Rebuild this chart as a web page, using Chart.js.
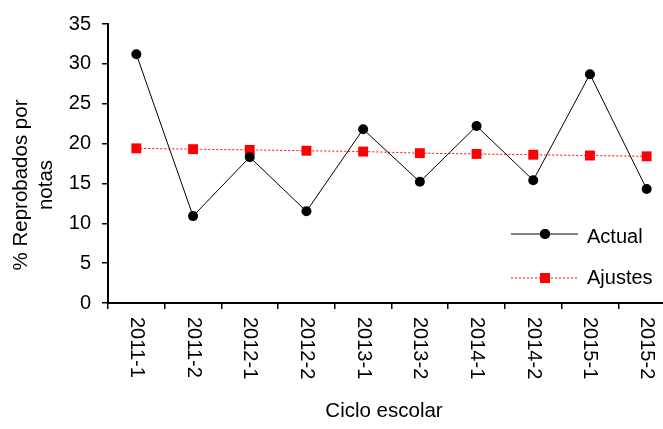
<!DOCTYPE html>
<html>
<head>
<meta charset="utf-8">
<script src="https://cdn.jsdelivr.net/npm/chart.js@4.4.1/dist/chart.umd.min.js"></script>
<style>
  html, body { margin: 0; padding: 0; background: #fff; }
  #wrap { width: 663px; height: 429px; overflow: hidden; position: relative; }
  canvas { display: block; }
</style>
</head>
<body>
<div id="wrap">
  <canvas id="chart" width="690" height="429"></canvas>
</div>
<script>
const ciclos = ["2011-1", "2011-2", "2012-1", "2012-2", "2013-1", "2013-2", "2014-1", "2014-2", "2015-1", "2015-2"];
const actual = [31.2, 10.9, 18.3, 11.5, 21.8, 15.2, 22.2, 15.4, 28.7, 14.3];
const ajustes = [19.4, 19.3, 19.2, 19.1, 19.0, 18.8, 18.7, 18.6, 18.5, 18.4];
const yTicks = [0, 5, 10, 15, 20, 25, 30, 35];

const FONT = "'Liberation Sans', Arial, Helvetica, sans-serif";

// draws rotated x labels, axis titles and the in-plot legend
const extras = {
  id: "extras",
  afterDraw(chart) {
    const ctx = chart.ctx;
    const x = chart.scales.x;
    ctx.save();
    ctx.fillStyle = "#000";

    ctx.font = "20px " + FONT;
    ctx.textAlign = "left";
    ctx.textBaseline = "middle";
    ciclos.forEach((c, i) => {
      ctx.save();
      ctx.translate(x.getPixelForValue(i), 317);
      ctx.rotate(Math.PI / 2);
      ctx.fillText(c, 0, 0);
      ctx.restore();
    });

    ctx.font = "20.5px " + FONT;
    ctx.textAlign = "center";
    ctx.textBaseline = "alphabetic";
    ctx.fillText("Ciclo escolar", 384, 417);

    ctx.save();
    ctx.translate(0, 185);
    ctx.rotate(-Math.PI / 2);
    ctx.textBaseline = "middle";
    ctx.fillText("% Reprobados por", 0, 21);
    ctx.fillText("notas", 0, 46);
    ctx.restore();

    // legend
    ctx.font = "20px " + FONT;
    const rows = [
      { ds: chart.data.datasets[0], y: 234, base: 243, label: "Actual" },
      { ds: chart.data.datasets[1], y: 278, base: 284, label: "Ajustes" }
    ];
    rows.forEach(r => {
      ctx.save();
      ctx.strokeStyle = r.ds.borderColor;
      ctx.lineWidth = r.ds.borderWidth;
      ctx.setLineDash(r.ds.borderDash || []);
      ctx.beginPath();
      ctx.moveTo(511, r.y);
      ctx.lineTo(578, r.y);
      ctx.stroke();
      ctx.restore();
      Chart.helpers.drawPoint(ctx, {
        pointStyle: r.ds.pointStyle,
        radius: r.ds.pointRadius,
        borderWidth: 0
      }, 545, r.y);
      ctx.fillStyle = r.ds.pointBackgroundColor;
      ctx.fill();
      ctx.fillStyle = "#000";
      ctx.textAlign = "left";
      ctx.textBaseline = "alphabetic";
      ctx.fillText(r.label, 587, r.base);
    });
    ctx.restore();
  }
};

new Chart(document.getElementById("chart"), {
  type: "line",
  data: {
    labels: ciclos,
    datasets: [
      {
        label: "Actual",
        data: actual,
        borderColor: "#000",
        borderWidth: 1,
        pointStyle: "circle",
        pointRadius: 5,
        pointBackgroundColor: "#000",
        pointBorderWidth: 0,
        tension: 0
      },
      {
        label: "Ajustes",
        data: ajustes,
        borderColor: "#ff0000",
        borderWidth: 1,
        borderDash: [2, 2],
        pointStyle: "rect",
        pointRadius: 7,
        pointBackgroundColor: "#ff0000",
        pointBorderWidth: 0,
        tension: 0
      }
    ]
  },
  options: {
    responsive: false,
    animation: false,
    events: [],
    layout: { padding: { left: 0, right: 15, top: 24, bottom: 0 } },
    plugins: {
      legend: { display: false },
      tooltip: { enabled: false }
    },
    scales: {
      x: {
        type: "category",
        offset: true,
        grid: { offset: true, drawOnChartArea: false, tickLength: 6, color: "#000", lineWidth: 1.5 },
        border: { display: true, color: "#000", width: 2 },
        ticks: { display: false },
        afterFit(s) { s.height = 126; }
      },
      y: {
        min: 0,
        max: 35,
        afterBuildTicks(s) { s.ticks = yTicks.map(v => ({ value: v })); },
        grid: { drawOnChartArea: false, tickLength: 6, color: "#000", lineWidth: 1.5 },
        border: { display: true, color: "#000", width: 2 },
        ticks: { color: "#000", padding: 11, font: { family: FONT, size: 20 } },
        afterFit(s) { s.width = 108; }
      }
    }
  },
  plugins: [extras]
});
</script>
</body>
</html>
